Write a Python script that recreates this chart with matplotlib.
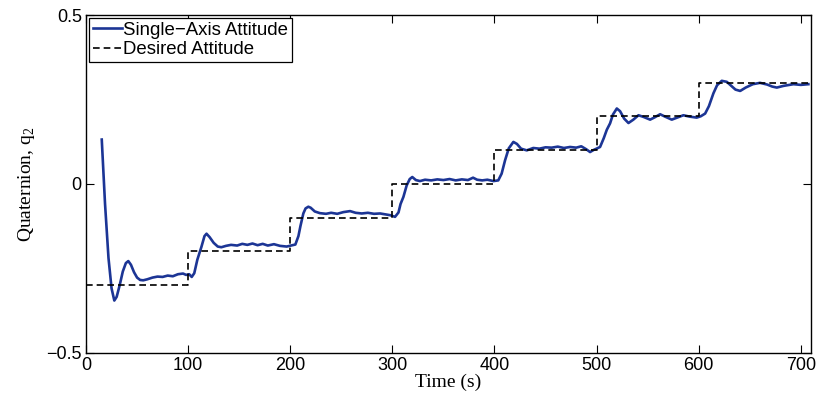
import matplotlib
matplotlib.use("Agg")
import matplotlib.pyplot as plt

t_att = [15.4, 18.6, 22, 25, 27.7, 30, 33, 36, 39, 41.4, 44, 47, 50, 53, 56, 60, 65, 70, 75,
         80, 85, 90, 95, 98, 101, 103.5, 106, 109, 113, 116, 118, 121, 125, 129, 132.5, 137,
         142, 148, 153, 158, 163, 168, 173, 178, 184, 190, 196.5, 201, 205, 208, 210, 212.8,
         215, 217.7, 220, 224, 229, 235, 240, 246, 252, 258.6, 264, 270, 276, 282, 288, 294,
         297.7, 302.6, 306, 308, 310.8, 314, 317, 319.5, 323, 327, 332, 338, 344, 350, 356,
         362, 368, 374, 379, 383, 388, 393, 399, 403.7, 407, 410.4, 414, 418.5, 422, 426,
         431.6, 438, 444, 450, 456, 462, 468, 474, 480, 485, 490, 493.6, 497, 503.4, 507,
         510, 513.2, 516, 519.8, 523, 527, 531.2, 536, 541, 546, 552.4, 557, 562.2, 567,
         573.6, 579, 585, 591, 598, 602, 606.3, 610, 614.4, 618, 622.6, 627.5, 632, 636,
         640.6, 646, 653, 660, 667, 672, 676.5, 683, 692.8, 700, 707.4]
q_att = [0.131, -0.059, -0.22, -0.31, -0.346, -0.335, -0.30, -0.26, -0.235, -0.229, -0.24,
         -0.262, -0.278, -0.285, -0.286, -0.283, -0.278, -0.275, -0.276, -0.272, -0.274,
         -0.268, -0.266, -0.27, -0.268, -0.276, -0.265, -0.225, -0.187, -0.155, -0.148,
         -0.158, -0.175, -0.186, -0.188, -0.184, -0.181, -0.183, -0.178, -0.181, -0.177,
         -0.182, -0.178, -0.183, -0.179, -0.184, -0.186, -0.183, -0.18, -0.155, -0.125,
         -0.088, -0.073, -0.068, -0.071, -0.082, -0.087, -0.089, -0.086, -0.089, -0.084,
         -0.081, -0.086, -0.088, -0.086, -0.089, -0.088, -0.091, -0.093, -0.098, -0.085,
         -0.06, -0.039, -0.005, 0.014, 0.02, 0.011, 0.008, 0.012, 0.010, 0.013, 0.011,
         0.014, 0.010, 0.013, 0.011, 0.018, 0.012, 0.010, 0.012, 0.008, 0.01, 0.03, 0.07,
         0.105, 0.124, 0.118, 0.104, 0.099, 0.106, 0.104, 0.108, 0.107, 0.110, 0.106,
         0.109, 0.107, 0.111, 0.102, 0.094, 0.100, 0.109, 0.135, 0.16, 0.179, 0.205, 0.223,
         0.215, 0.193, 0.180, 0.19, 0.203, 0.198, 0.19, 0.197, 0.206, 0.199, 0.19, 0.196,
         0.203, 0.199, 0.196, 0.200, 0.208, 0.230, 0.268, 0.292, 0.305, 0.302, 0.29, 0.279,
         0.275, 0.285, 0.295, 0.299, 0.294, 0.288, 0.285, 0.290, 0.295, 0.293, 0.295]

# desired attitude steps
t_des = [0, 100, 200, 300, 400, 500, 600, 710]
q_des = [-0.3, -0.2, -0.1, 0.0, 0.1, 0.2, 0.3, 0.3]

x_ticks = [0, 100, 200, 300, 400, 500, 600, 700]
y_ticks = [-0.5, 0, 0.5]
y_tick_labels = ['\u22120.5', '0', '0.5']

plt.rcParams['font.family'] = 'Liberation Sans'
plt.rcParams['font.size'] = 13
plt.rcParams['mathtext.fontset'] = 'custom'
plt.rcParams['mathtext.rm'] = 'Liberation Serif'

fig = plt.figure(figsize=(8.17, 3.97), dpi=100)
ax = fig.add_axes([0.1053, 0.112, 0.8874, 0.8502])

ax.plot(t_att, q_att, color='#1c3595', lw=1.9, label='Single\u2212Axis Attitude')
ax.plot(t_des, q_des, color='black', lw=1.2, ls=(0, (4, 2.4)), drawstyle='steps-post',
        label='Desired Attitude')

ax.set_xlim(0, 710)
ax.set_ylim(-0.5, 0.5)
ax.set_xticks(x_ticks)
ax.set_yticks(y_ticks)
ax.set_yticklabels(y_tick_labels)
ax.tick_params(direction='in', length=5.5, width=0.8, top=True, right=True, pad=3)
for s in ax.spines.values():
    s.set_linewidth(1.0)

ax.set_xlabel('Time (s)', family='Liberation Serif', fontsize=14, labelpad=0)
ax.set_ylabel('Quaternion, q$_\\mathrm{2}$', family='Liberation Serif', fontsize=14,
              labelpad=7)

leg = ax.legend(loc='upper left', fancybox=False, edgecolor='black', framealpha=1,
                borderaxespad=0.15, borderpad=0.2, labelspacing=0.15, handlelength=1.6,
                handletextpad=0.05, fontsize=13.4)
leg.get_frame().set_linewidth(0.9)

fig.savefig('out.png', dpi=100)
